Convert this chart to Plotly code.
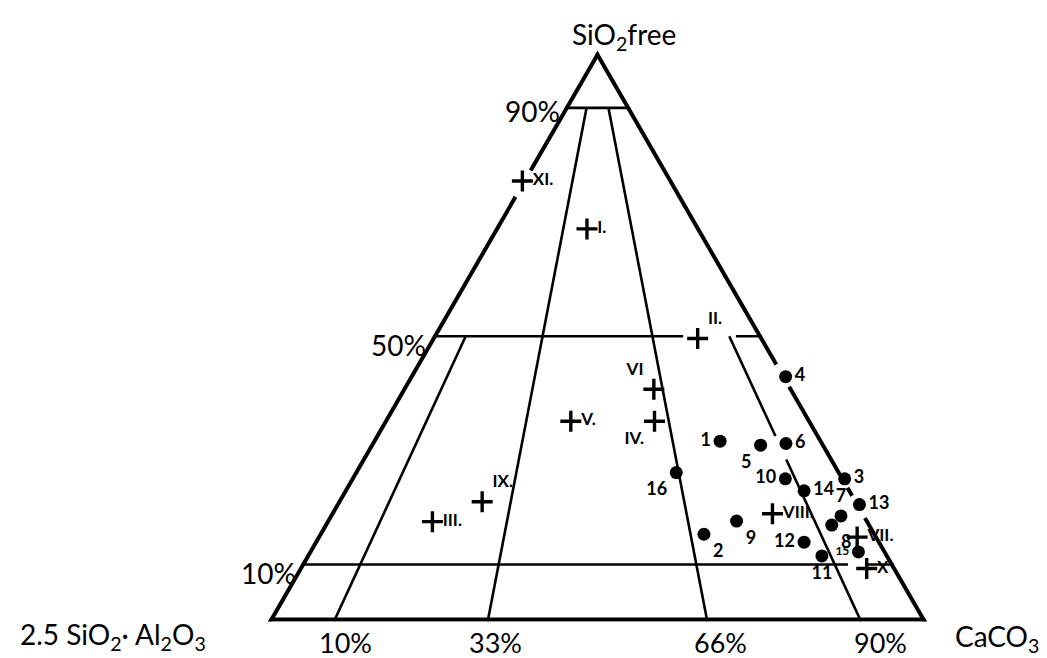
import plotly.graph_objects as go

# ---------------- data (percent: SiO2 free, 2.5SiO2.Al2O3, CaCO3) ----------------
dot_labels = ["1", "2", "3", "4", "5", "6", "7", "8", "9", "10", "11", "12", "13", "14", "15", "16"]
dot_sio2 = [31.6, 15.3, 25.0, 42.9, 30.9, 31.2, 18.5, 16.9, 17.6, 25.0, 11.5, 13.9, 20.5, 22.9, 12.2, 26.1]
dot_clay = [15.6, 26.2, 0.0, 0.0, 9.8, 5.8, 3.8, 6.0, 20.1, 9.0, 10.2, 11.7, 0.0, 7.2, 4.3, 25.0]
dot_caco3 = [52.8, 58.5, 75.0, 57.1, 59.3, 63.0, 77.7, 77.1, 62.3, 66.0, 78.3, 74.4, 79.5, 69.9, 83.5, 48.9]

cross_labels = ["I.", "II.", "III.", "IV.", "V.", "VI", "VII.", "VIII.", "IX.", "X", "XI."]
cross_sio2 = [68.8, 49.6, 17.5, 35.1, 35.1, 40.7, 14.8, 18.9, 21.0, 9.3, 77.2]
cross_clay = [17.2, 10.0, 66.3, 23.8, 36.5, 21.1, 3.2, 14.0, 57.0, 4.5, 22.8]
cross_caco3 = [14.0, 40.4, 16.2, 41.1, 28.4, 38.2, 82.0, 67.1, 22.0, 86.2, 0.0]

sio2_levels = [90, 50, 10]                 # horizontal guide lines
sio2_level_labels = ["90%", "50%", "10%"]
ratio_values = [10, 100 / 3, 200 / 3, 90]  # CaCO3 share of (CaCO3 + clay)
ratio_top = [50, 90, 90, 50]               # SiO2 level where each ratio line stops
ratio_labels = ["10%", "33%", "66%", "90%"]

# ---------------- styling ----------------
dot_pos = ["middle left", "bottom right", "middle right", "middle right", "bottom left",
           "middle right", "top center", "bottom right", "bottom right", "middle left",
           "bottom center", "middle left", "middle right", "middle right", "middle left",
           "bottom left"]
dot_text_size = [18, 18, 18, 18, 18, 18, 18, 18, 18, 18, 18, 18, 18, 18, 12, 18]
cross_pos = ["middle right", "top right", "middle right", "bottom left", "middle right",
             "top left", "middle right", "middle right", "top right", "middle right",
             "middle right"]

FONT = "Lato"
fig = go.Figure()


def seg_trace(pts_list, width):
    a, b, c = [], [], []
    for pts in pts_list:
        for p in pts:
            a.append(p[0]); b.append(p[1]); c.append(p[2])
        a.append(None); b.append(None); c.append(None)
    fig.add_trace(go.Scatterternary(a=a, b=b, c=c, mode="lines",
                                    line=dict(color="black", width=width),
                                    hoverinfo="skip", showlegend=False,
                                    connectgaps=False, cliponaxis=False))


# triangle edges (hand-drawn gaps around labels); drawn wide because the
# subplot clips the outer half of lines lying on the border
left_edge = [(0, 74.6), (79.2, 100)]
right_edge = [(0, 18.3), (22.2, 23.6), (25.8, 41.3), (45.2, 100)]
edges = [[(0, 100, 0), (0, 0, 100)]]
for a0, a1 in left_edge:
    edges.append([(a0, 100 - a0, 0), (a1, 100 - a1, 0)])
for a0, a1 in right_edge:
    edges.append([(a0, 0, 100 - a0), (a1, 0, 100 - a1)])
seg_trace(edges, 8)

# horizontal SiO2 lines
hl = []
for L in sio2_levels:
    if L == 50:
        hl.append([(L, 100 - L, 0), (L, 100 - L - 38.0, 38.0)])
        hl.append([(L, 100 - L - 46.0, 46.0), (L, 0, 100 - L)])
    elif L == 10:
        hl.append([(L, 100 - L, 0), (L, 100 - L - 83.0, 83.0)])
        hl.append([(L, 100 - L - 86.0, 86.0), (L, 0, 100 - L)])
    else:
        hl.append([(L, 100 - L, 0), (L, 0, 100 - L)])
seg_trace(hl, 2.6)

# ratio lines
rl = []
for r, top in zip(ratio_values, ratio_top):
    f = r / 100
    def pt(a):
        return (a, (100 - a) * (1 - f), (100 - a) * f)
    if r == 90:
        rl.append([pt(0), pt(28.4)])
        rl.append([pt(32.5), pt(top)])
    else:
        rl.append([pt(0), pt(top)])
seg_trace(rl, 2.6)

# dots
fig.add_trace(go.Scatterternary(
    a=dot_sio2, b=dot_clay, c=dot_caco3, mode="markers+text",
    text=dot_labels, textposition=dot_pos, cliponaxis=False,
    textfont=dict(family=FONT, size=dot_text_size, color="black", weight="bold"),
    marker=dict(symbol="circle", size=13, color="black"),
    showlegend=False, hoverinfo="text"))

# crosses
fig.add_trace(go.Scatterternary(
    a=cross_sio2, b=cross_clay, c=cross_caco3, mode="markers+text",
    text=cross_labels, textposition=cross_pos, cliponaxis=False,
    textfont=dict(family=FONT, size=17, color="black", weight="bold"),
    marker=dict(symbol="cross-thin", size=15, line=dict(color="black", width=3.4)),
    showlegend=False, hoverinfo="text"))

axis_common = dict(min=0, showline=False, showgrid=False, showticklabels=False,
                   ticks="", title=dict(text=""))
fig.update_layout(
    width=1047, height=658,
    margin=dict(l=0, r=0, t=0, b=0),
    paper_bgcolor="white",
    font=dict(family=FONT, color="black"),
    ternary=dict(
        sum=100,
        domain=dict(x=[260 / 1047, 919 / 1047], y=[44 / 658, 0.9356]),
        bgcolor="white",
        aaxis=axis_common, baxis=axis_common, caxis=axis_common,
    ),
)

# text labels (paper coordinates)
def ann(text, x, y, size=28, xanchor="center"):
    fig.add_annotation(text=text, x=x / 1047, y=1 - y / 658, xref="paper", yref="paper",
                       showarrow=False, xanchor=xanchor, yanchor="middle",
                       font=dict(family=FONT, size=size, color="black"))

ann("SiO<sub>2</sub>free", 562, 28, xanchor="left")
for lab, yy, xr in zip(sio2_level_labels, [103, 337, 565], [554, 420, 290]):
    ann(lab, xr, yy, xanchor="right")
for lab, xx in zip(ratio_labels, [337, 487, 712, 872]):
    ann(lab, xx, 634, size=27)
ann("2.5 SiO<sub>2</sub>· Al<sub>2</sub>O<sub>3</sub>", 10, 628, xanchor="left")
ann("CaCO<sub>3</sub>", 945, 630, xanchor="left")

fig.write_html("out.html")
